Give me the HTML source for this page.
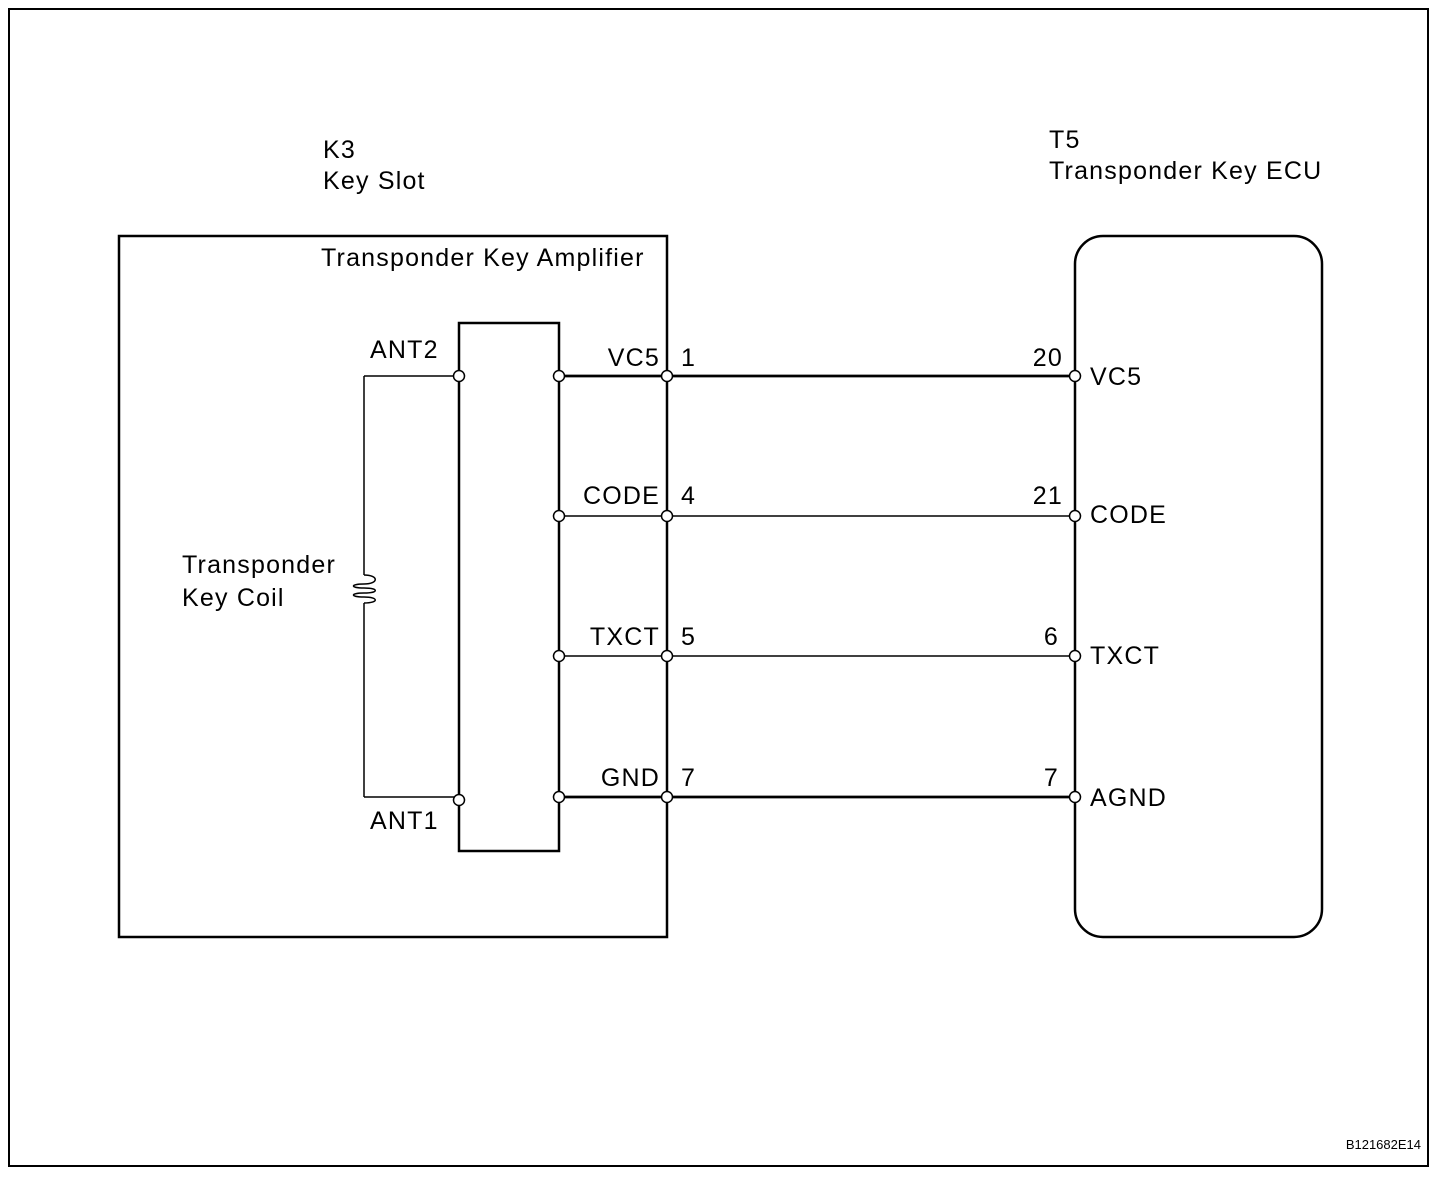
<!DOCTYPE html>
<html><head><meta charset="utf-8"><style>
html,body{margin:0;padding:0;background:#fff;}
svg{display:block;}
text{font-family:"Liberation Sans",Arial,sans-serif;fill:#000;}
</style></head><body>
<svg width="1456" height="1180" viewBox="0 0 1456 1180" xmlns="http://www.w3.org/2000/svg">
<rect x="9" y="9" width="1419" height="1157" fill="none" stroke="#000" stroke-width="2"/>
<g font-size="25" letter-spacing="1.2">
<text x="323" y="158">K3</text>
<text x="323" y="189">Key Slot</text>
<text x="1049" y="148">T5</text>
<text x="1049" y="179">Transponder Key ECU</text>
<text x="321" y="266">Transponder Key Amplifier</text>
<text x="182" y="573">Transponder</text>
<text x="182" y="606">Key Coil</text>
<text x="370" y="358">ANT2</text>
<text x="370" y="829">ANT1</text>
<text x="660" y="366" text-anchor="end">VC5</text>
<text x="681" y="366">1</text>
<text x="660" y="504" text-anchor="end">CODE</text>
<text x="681" y="504">4</text>
<text x="660" y="645" text-anchor="end">TXCT</text>
<text x="681" y="645">5</text>
<text x="660" y="786" text-anchor="end">GND</text>
<text x="681" y="786">7</text>
<text x="1063" y="366" text-anchor="end">20</text>
<text x="1063" y="504" text-anchor="end">21</text>
<text x="1059" y="645" text-anchor="end">6</text>
<text x="1059" y="786" text-anchor="end">7</text>
<text x="1090" y="385">VC5</text>
<text x="1090" y="523">CODE</text>
<text x="1090" y="664">TXCT</text>
<text x="1090" y="806">AGND</text>
</g>
<text x="1421" y="1149" font-size="13" text-anchor="end">B121682E14</text>
<g fill="none" stroke="#000">
<rect x="119" y="236" width="548" height="701" stroke-width="2.5"/>
<rect x="459" y="323" width="100" height="528" stroke-width="2.5"/>
<rect x="1075" y="236" width="247" height="701" rx="28" ry="28" stroke-width="2.5"/>
<line x1="364" y1="376" x2="459" y2="376" stroke-width="1.5"/>
<line x1="364" y1="797" x2="459" y2="797" stroke-width="1.5"/>
<line x1="364" y1="376" x2="364" y2="575" stroke-width="1.5"/>
<line x1="364" y1="603" x2="364" y2="797" stroke-width="1.5"/>
<path d="M364 575 C379 575 379 584 364 584 C350 584 350 588 364 588 C379 588 379 593 364 593 C350 593 350 597 364 597 C379 597 379 603 364 603" stroke-width="1.5"/>
<line x1="559" y1="376" x2="1075" y2="376" stroke-width="2.8"/>
<line x1="559" y1="516" x2="1075" y2="516" stroke-width="1.4"/>
<line x1="559" y1="656" x2="1075" y2="656" stroke-width="1.4"/>
<line x1="559" y1="797" x2="1075" y2="797" stroke-width="2.8"/>
</g>
<g fill="#fff" stroke="#000" stroke-width="1.5">
<circle cx="459" cy="376" r="5.5"/><circle cx="459" cy="800" r="5.5"/>
<circle cx="559" cy="376" r="5.5"/><circle cx="559" cy="516" r="5.5"/>
<circle cx="559" cy="656" r="5.5"/><circle cx="559" cy="797" r="5.5"/>
<circle cx="667" cy="376" r="5.5"/><circle cx="667" cy="516" r="5.5"/>
<circle cx="667" cy="656" r="5.5"/><circle cx="667" cy="797" r="5.5"/>
<circle cx="1075" cy="376" r="5.5"/><circle cx="1075" cy="516" r="5.5"/>
<circle cx="1075" cy="656" r="5.5"/><circle cx="1075" cy="797" r="5.5"/>
</g>
</svg>
</body></html>
